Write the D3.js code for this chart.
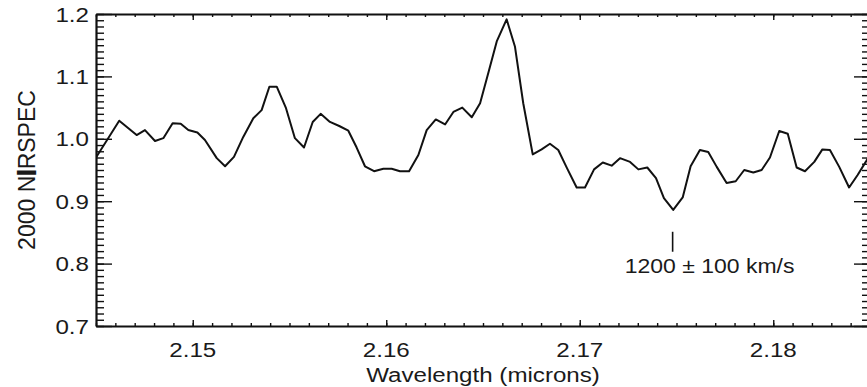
<!DOCTYPE html>
<html>
<head>
<meta charset="utf-8">
<script src="https://cdnjs.cloudflare.com/ajax/libs/d3/7.8.5/d3.min.js"></script>
<style>
body { margin: 0; background: #fff; }
text { font-family: "Liberation Sans", Arial, Helvetica, sans-serif; fill: #1a1a1a; }
</style>
</head>
<body>
<div id="chart"></div>
<script>
// spectrum (microns, normalised flux)
var wavelength = [2.1450, 2.1462, 2.1471, 2.14753, 2.14805, 2.14848, 2.14896, 2.14938, 2.14977, 2.15024,
  2.15063, 2.15124, 2.15167, 2.15213, 2.15261, 2.15313, 2.15356, 2.15396, 2.15434, 2.15482,
  2.15528, 2.15575, 2.1562, 2.15661, 2.15709, 2.15757, 2.15804, 2.15847, 2.1589, 2.15937,
  2.15985, 2.16028, 2.16071, 2.16118, 2.16166, 2.16209, 2.16256, 2.16304, 2.16347, 2.16393,
  2.16442, 2.16485, 2.16527, 2.16571, 2.16622, 2.16665, 2.16708, 2.16757, 2.16803, 2.16846,
  2.16889, 2.16934, 2.16984, 2.17027, 2.17074, 2.17119, 2.17165, 2.17208, 2.1726, 2.17303,
  2.17349, 2.17394, 2.17435, 2.17483, 2.17532, 2.17573, 2.17621, 2.17664, 2.17708, 2.17759,
  2.17806, 2.1785, 2.17897, 2.1794, 2.17983, 2.18031, 2.18075, 2.18121, 2.18164, 2.18212,
  2.18254, 2.18293, 2.18341, 2.18392, 2.18436, 2.18478, 2.185]
var flux = [0.970, 1.029, 1.006, 1.014, 0.9965, 1.001, 1.025, 1.024, 1.014, 1.010,
  0.998, 0.969, 0.956, 0.971, 1.003, 1.033, 1.046, 1.0835, 1.0835, 1.049,
  1.001, 0.986, 1.027, 1.040, 1.027, 1.0205, 1.013, 0.986, 0.956, 0.948,
  0.952, 0.952, 0.948, 0.948, 0.974, 1.014, 1.031, 1.023, 1.043, 1.050,
  1.0345, 1.057, 1.105, 1.156, 1.1915, 1.148, 1.057, 0.975, 0.983, 0.992,
  0.982, 0.953, 0.922, 0.922, 0.951, 0.962, 0.957, 0.969, 0.963, 0.951,
  0.954, 0.937, 0.905, 0.886, 0.906, 0.956, 0.982, 0.979, 0.955, 0.929,
  0.932, 0.950, 0.946, 0.950, 0.970, 1.0125, 1.008, 0.954, 0.948, 0.963,
  0.983, 0.982, 0.955, 0.922, 0.942, 0.963, 0.975]

var xTicks = [2.15, 2.16, 2.17, 2.18]
var yTicks = [0.7, 0.8, 0.9, 1.0, 1.1, 1.2]
var xTitle = "Wavelength (microns)"
var yTitle = ["2000 N", "I", "RSPEC"]
var markWave = 2.1748
var markText = "1200 \u00b1 100 km/s"

var width = 867, height = 387
var stretch = 1.15

var svg = d3.select("#chart")
  .append("svg")
    .attr("width", width)
    .attr("height", height)

var x = d3.scaleLinear().domain([2.145, 2.185]).range([96, 870])
var y = d3.scaleLinear().domain([0.7, 1.2]).range([326, 14])

var xMinor = d3.range(41).map(i => +(2.145 + i / 1000).toFixed(3))
var yMinor = d3.range(51).map(i => +(0.7 + i / 100).toFixed(2))

function axisPart(axis, vals, size, tr, keepDomain) {
  var g = svg.append("g")
    .attr("transform", tr)
    .call(axis.tickValues(vals).tickSize(size).tickSizeOuter(0).tickFormat(""))
  g.selectAll("line").attr("stroke", "#111").attr("stroke-width", 1.4)
  g.select(".domain").attr("stroke", "#111").attr("stroke-width", 2.2)
  if (!keepDomain) g.select(".domain").remove()
}

// inward ticks on all four sides
axisPart(d3.axisBottom(x), xMinor, -3, "translate(0,326)", true)
axisPart(d3.axisBottom(x), xTicks, -6, "translate(0,326)", false)
axisPart(d3.axisTop(x), xMinor, -3, "translate(0,14)", true)
axisPart(d3.axisTop(x), xTicks, -6, "translate(0,14)", false)
axisPart(d3.axisLeft(y), yMinor, -8, "translate(96,0)", true)
axisPart(d3.axisLeft(y), yTicks, -16, "translate(96,0)", false)
axisPart(d3.axisRight(y), yMinor, -8, "translate(870,0)", true)
axisPart(d3.axisRight(y), yTicks, -16, "translate(870,0)", false)

// tick labels
svg.selectAll("xlab")
  .data(xTicks)
  .enter()
  .append("g")
    .attr("transform", d => "translate(" + x(d) + ",356.5) scale(" + stretch + ",1)")
  .append("text")
    .attr("text-anchor", "middle")
    .attr("font-size", 21)
    .text(d => d.toFixed(2))

svg.selectAll("ylab")
  .data(yTicks)
  .enter()
  .append("g")
    .attr("transform", d => "translate(89," + (y(d) + 7.5) + ") scale(" + stretch + ",1)")
  .append("text")
    .attr("text-anchor", "end")
    .attr("font-size", 21)
    .text(d => d.toFixed(1))

// axis titles
svg.append("g")
    .attr("transform", "translate(483,381.5) scale(" + stretch + ",1)")
  .append("text")
    .attr("text-anchor", "middle")
    .attr("font-size", 21)
    .text(xTitle)

var yt = svg.append("g")
    .attr("transform", "translate(35,170) rotate(-90)")
  .append("text")
    .attr("text-anchor", "middle")
    .attr("font-size", 23)
yt.selectAll("tspan")
  .data(yTitle)
  .enter()
  .append("tspan")
    .attr("stroke", (d, i) => i == 1 ? "#1a1a1a" : null)
    .attr("stroke-width", (d, i) => i == 1 ? 2.2 : null)
    .text(d => d)

// spectrum
svg.append("clipPath")
    .attr("id", "plotclip")
  .append("rect")
    .attr("x", 96).attr("y", 14)
    .attr("width", 774).attr("height", 312)

var line = d3.line()
  .x(d => x(d[0]))
  .y(d => y(d[1]))

svg.append("path")
  .datum(d3.zip(wavelength, flux))
  .attr("clip-path", "url(#plotclip)")
  .attr("fill", "none")
  .attr("stroke", "#111")
  .attr("stroke-width", 2)
  .attr("stroke-linejoin", "round")
  .attr("d", line)

// velocity marker
svg.append("line")
  .attr("x1", x(markWave)).attr("x2", x(markWave))
  .attr("y1", y(0.851)).attr("y2", y(0.819))
  .attr("stroke", "#111")
  .attr("stroke-width", 1.6)

svg.append("g")
    .attr("transform", "translate(" + (x(markWave) - 48) + "," + y(0.785) + ") scale(" + stretch + ",1)")
  .append("text")
    .attr("font-size", 20)
    .text(markText)
</script>
</body>
</html>
